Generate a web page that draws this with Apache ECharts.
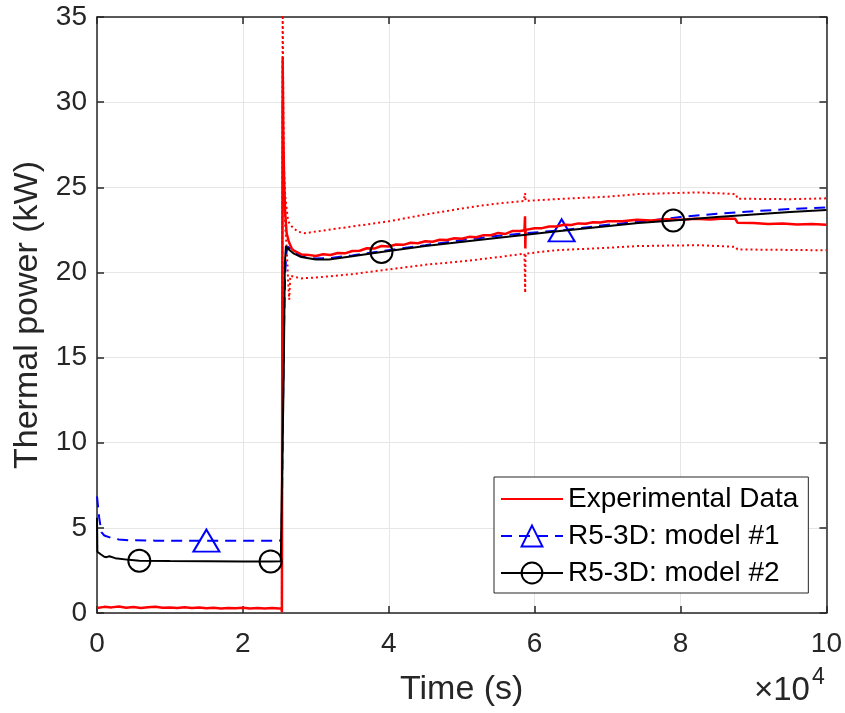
<!DOCTYPE html>
<html>
<head>
<meta charset="utf-8">
<script src="https://cdn.jsdelivr.net/npm/echarts@6/dist/echarts.min.js"></script>
<style>html,body{margin:0;padding:0;background:#fff}#c{width:845px;height:713px}</style>
</head>
<body>
<div id="c"></div>
<script>
// Time in units of 1e4 s, power in kW
var xTicks = [0, 2, 4, 6, 8, 10];
var yTicks = [0, 5, 10, 15, 20, 25, 30, 35];

var expT = [0,0.1,0.2,0.3,0.4,0.5,0.6,0.7,0.8,0.9,1.0,1.1,1.2,1.3,1.4,1.5,1.6,1.7,1.8,1.9,2.0,2.1,2.2,2.3,2.4,2.5,2.53,2.535,2.545,2.555,2.565,2.58,2.6,2.63,2.67,2.7,2.8,2.9,3.0,3.1,3.2,3.3,3.4,3.5,3.6,3.7,3.8,3.9,4.0,4.1,4.2,4.3,4.4,4.5,4.6,4.7,4.8,4.9,5.0,5.1,5.2,5.3,5.4,5.5,5.6,5.7,5.8,5.86,5.868,5.872,5.876,5.9,6.0,6.1,6.2,6.3,6.4,6.5,6.6,6.7,6.8,6.9,7.0,7.2,7.4,7.6,7.8,8.0,8.2,8.4,8.6,8.75,8.78,9.0,9.2,9.4,9.6,9.8,10.0];
var expP = [0.30,0.36,0.33,0.38,0.31,0.35,0.30,0.34,0.37,0.31,0.33,0.29,0.34,0.30,0.32,0.28,0.31,0.27,0.30,0.28,0.31,0.27,0.29,0.26,0.29,0.27,0.27,0.05,32.6,28.0,25.5,23.5,22.3,21.8,21.4,21.28,21.06,21.03,20.96,21.07,21.02,21.14,21.12,21.26,21.27,21.42,21.40,21.55,21.52,21.64,21.62,21.74,21.71,21.83,21.80,21.92,21.90,22.01,21.98,22.09,22.07,22.19,22.18,22.32,22.26,22.44,22.43,22.48,23.3,21.4,22.5,22.52,22.60,22.60,22.70,22.70,22.80,22.78,22.88,22.86,22.95,22.93,23.01,23.00,23.09,23.05,23.13,23.10,23.15,23.11,23.16,23.15,22.92,22.90,22.84,22.88,22.81,22.84,22.80];

var upT = [2.535,2.545,2.555,2.565,2.58,2.62,2.67,2.75,2.85,3.0,3.5,4.0,4.5,5.0,5.23,5.5,5.85,5.87,5.875,6.28,7.0,7.42,8.24,8.76,8.78,9.5,10.0];
var upP = [0.3,36,29,26,24.5,23.0,22.7,22.4,22.3,22.4,22.7,23.0,23.4,23.75,23.9,24.05,24.2,24.65,24.2,24.3,24.45,24.6,24.7,24.6,24.33,24.3,24.35];

var loT = [2.535,2.545,2.56,2.6,2.62,2.635,2.65,2.7,2.8,3.0,3.5,4.0,4.5,5.0,5.23,5.5,5.86,5.87,5.875,6.28,7.0,7.42,8.24,8.76,8.78,10.0];
var loP = [0.2,30,24,21.5,19.5,18.4,19.8,19.75,19.65,19.7,19.9,20.18,20.45,20.65,20.76,20.9,21.1,18.8,21.1,21.3,21.45,21.55,21.6,21.5,21.35,21.3];

var m1T = [0,0.03,0.06,0.1,0.2,0.3,0.44,0.8,1.5,2.0,2.5,2.53,2.545,2.56,2.58,2.6,2.62,2.65,2.7,2.8,2.9,3.0,3.2,3.5,3.9,4.5,5.0,5.5,6.0,6.37,7.0,7.5,8.0,8.5,9.0,9.5,10.0];
var m1P = [6.85,5.6,4.75,4.55,4.4,4.32,4.27,4.25,4.25,4.25,4.25,4.3,10,16,20,21.3,21.5,21.4,21.2,20.95,20.85,20.82,20.85,21.0,21.25,21.6,21.9,22.15,22.35,22.47,22.8,23.0,23.25,23.45,23.6,23.72,23.82];
var m1Markers = [1.5, 6.37];

var m2T = [0,0.005,0.05,0.1,0.13,0.17,0.25,0.44,0.58,1.0,1.5,2.0,2.38,2.52,2.535,2.55,2.56,2.575,2.59,2.63,2.7,2.8,3.0,3.18,3.5,3.9,4.5,5.23,6.28,7.42,7.9,8.5,9.0,9.5,10.0];
var m2P = [5.6,3.6,3.45,3.3,3.28,3.33,3.22,3.12,3.07,3.05,3.04,3.03,3.03,3.04,7.5,7.6,14,20.5,21.55,21.35,21.1,20.9,20.76,20.76,20.95,21.2,21.55,21.9,22.4,22.9,23.05,23.25,23.4,23.55,23.67];
var m2Markers = [0.58, 2.38, 3.9, 7.9];

var FONT = 'Liberation Sans, Arial, Helvetica, sans-serif';
var AX = '#262626';

function pairs(t, p) { return t.map(function (x, i) { return [x, p[i]]; }); }
function withMarkers(t, p, mk, size) {
  return t.map(function (x, i) {
    return { value: [x, p[i]], symbolSize: mk.indexOf(x) >= 0 ? size : 0 };
  });
}

var chart = echarts.init(document.getElementById('c'), null, { renderer: 'canvas' });

function axisCommon(showLabel) {
  return {
    type: 'value',
    axisLine: { show: true, onZero: false, lineStyle: { color: AX, width: 1.5 } },
    axisTick: { show: true, inside: true, length: 7, lineStyle: { color: AX, width: 1.5 } },
    axisLabel: { show: showLabel, fontSize: 28, color: AX, fontFamily: FONT },
    splitLine: { show: showLabel, lineStyle: { color: '#e6e6e6', width: 1 } }
  };
}

var xb = axisCommon(true);
xb.min = xTicks[0]; xb.max = xTicks[xTicks.length - 1]; xb.interval = xTicks[1] - xTicks[0];
xb.position = 'bottom';
xb.axisLabel.margin = 17;
xb.name = 'Time (s)'; xb.nameLocation = 'middle'; xb.nameGap = 60;
xb.nameTextStyle = { fontSize: 34, color: AX, fontFamily: FONT };

var xt = axisCommon(false);
xt.min = xb.min; xt.max = xb.max; xt.interval = xb.interval; xt.position = 'top';

var yl = axisCommon(true);
yl.min = yTicks[0]; yl.max = yTicks[yTicks.length - 1]; yl.interval = yTicks[1] - yTicks[0];
yl.position = 'left';
yl.axisLabel.margin = 10;
yl.name = 'Thermal power (kW)'; yl.nameLocation = 'middle'; yl.nameGap = 50;
yl.nameTextStyle = { fontSize: 34, color: AX, fontFamily: FONT };

var yr = axisCommon(false);
yr.min = yl.min; yr.max = yl.max; yr.interval = yl.interval; yr.position = 'right';

var option = {
  animation: false,
  backgroundColor: '#fff',
  grid: { left: 97, right: 16, top: 17, bottom: 100, containLabel: false },
  xAxis: [xb, xt],
  yAxis: [yl, yr],
  legend: {
    data: ['Experimental Data', 'R5-3D: model #1', 'R5-3D: model #2'],
    orient: 'vertical',
    left: 494, top: 477,
    itemWidth: 62, itemHeight: 26, itemGap: 9,
    padding: [8, 10, 6, 6],
    borderColor: AX, borderWidth: 1, backgroundColor: '#fff',
    selectedMode: false,
    textStyle: { fontSize: 28, color: '#000', fontFamily: FONT }
  },
  graphic: [
    { type: 'text', left: 754, top: 674, z: 10,
      style: { text: '×10', fontSize: 33, fill: AX, fontFamily: FONT } },
    { type: 'text', left: 812, top: 666, z: 10,
      style: { text: '4', fontSize: 23, fill: AX, fontFamily: FONT } }
  ],
  series: [
    { name: 'upper', type: 'line', data: pairs(upT, upP), symbol: 'none', z: 1,
      lineStyle: { color: '#ff0000', width: 2, type: [2, 3] } },
    { name: 'lower', type: 'line', data: pairs(loT, loP), symbol: 'none', z: 1,
      lineStyle: { color: '#ff0000', width: 2, type: [2, 3] } },
    { name: 'R5-3D: model #1', type: 'line', data: withMarkers(m1T, m1P, m1Markers, [26, 22]),
      symbol: 'triangle', symbolSize: 0, showSymbol: true, showAllSymbol: true, z: 2,
      itemStyle: { color: 'rgba(0,0,0,0)', borderColor: '#0000ff', borderWidth: 2 },
      lineStyle: { color: '#0000ff', width: 2, type: [11, 7] } },
    { name: 'Experimental Data', type: 'line', data: pairs(expT, expP), symbol: 'none', z: 3,
      itemStyle: { color: 'rgba(0,0,0,0)', borderColor: 'rgba(0,0,0,0)', borderWidth: 0 },
      lineStyle: { color: '#ff0000', width: 2.5 } },
    { name: 'R5-3D: model #2', type: 'line', data: withMarkers(m2T, m2P, m2Markers, 22),
      symbol: 'circle', symbolSize: 0, showSymbol: true, showAllSymbol: true, z: 4,
      itemStyle: { color: 'rgba(0,0,0,0)', borderColor: '#000000', borderWidth: 2 },
      lineStyle: { color: '#000000', width: 2 } }
  ]
};
chart.setOption(option);
</script>
</body>
</html>
